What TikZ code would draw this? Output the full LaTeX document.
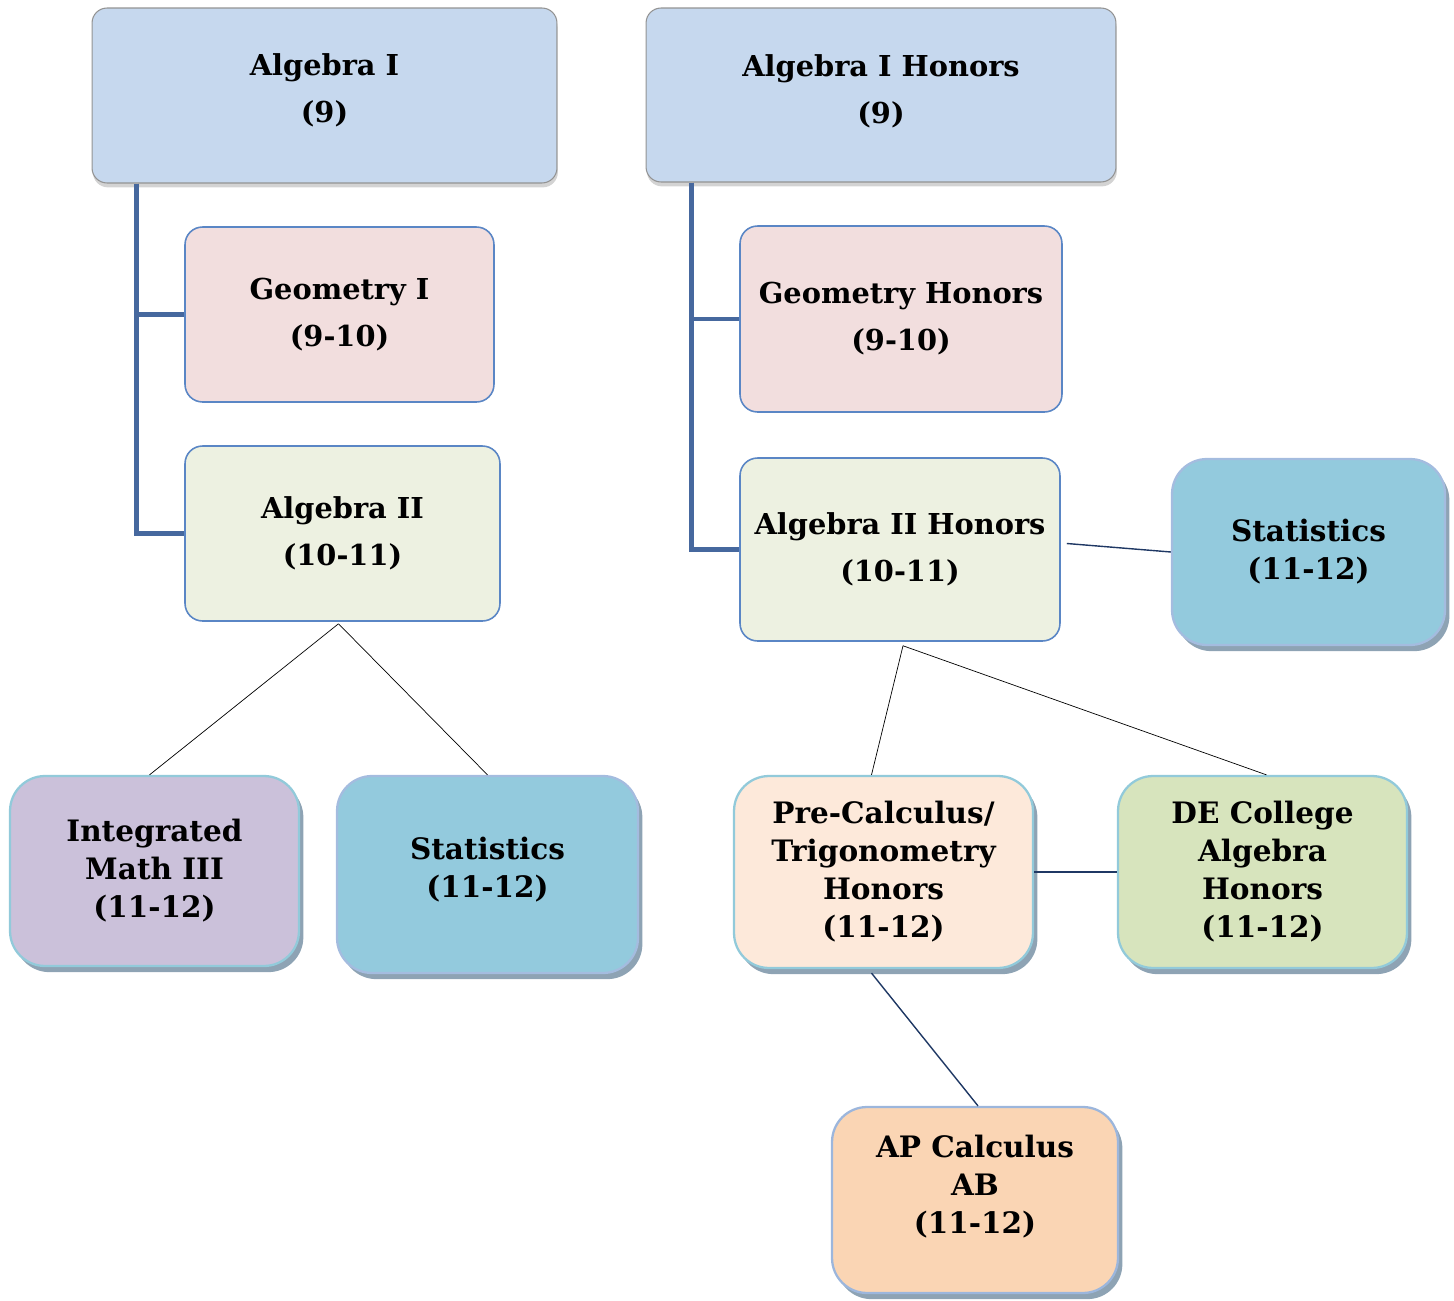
\documentclass[tikz,border=0pt]{standalone}
\usepackage{fontspec}
\setmainfont{DejaVu Serif}
\usepackage{tikz}
\usetikzlibrary{shapes, calc, shadows}

\definecolor{topblue}{HTML}{C6D8EE}
\definecolor{pinkish}{HTML}{F2DEDE}
\definecolor{palegreen}{HTML}{EDF1E1}
\definecolor{statblue}{HTML}{93CADD}
\definecolor{lavender}{HTML}{CBC1DA}
\definecolor{peach}{HTML}{FDE9DA}
\definecolor{olive}{HTML}{D7E4BD}
\definecolor{apricot}{HTML}{FAD5B4}
\definecolor{midline}{HTML}{5A86C5}
\definecolor{lowline}{HTML}{92CADA}
\definecolor{lowshadow}{HTML}{8EA3B4}
\definecolor{elbow}{HTML}{46689E}
\definecolor{navy}{HTML}{1F3864}

\begin{document}
\begin{tikzpicture}[x=0.02cm, y=-0.02cm,
						every node/.style={rectangle, inner sep=0pt, align=center, font=\bfseries\fontsize{16.4}{26.7}\selectfont},
						topbox/.style={draw=gray!85, line width=0.6pt, fill=topblue, rounded corners=0.3cm,
							drop shadow={shadow xshift=0.5pt, shadow yshift=-2.5pt, opacity=0.35}},
						midbox/.style={draw=midline, line width=0.9pt, rounded corners=0.35cm},
						lowbox/.style={draw=lowline, line width=1.3pt, rounded corners=0.7cm,
							font=\bfseries\fontsize{16.8}{21.6}\selectfont,
							drop shadow={shadow xshift=2.5pt, shadow yshift=-3.5pt, fill=lowshadow, opacity=1}},
						every path/.style={line join=miter}]
					\useasboundingbox (0,0) rectangle (1454,1301);

					\node[topbox, minimum width=9.3cm, minimum height=3.5cm] (AlgI) at (324.5,95.5) {Algebra I\\(9)\\[-18pt]};
					\node[topbox, minimum width=9.4cm, minimum height=3.48cm] (AlgIH) at (881,95) {Algebra I Honors\\(9)\\[-20pt]};

					\node[midbox, fill=pinkish, minimum width=6.18cm, minimum height=3.5cm] (GeoI) at (339.5,314.5) {Geometry I\\(9-10)};
					\node[midbox, fill=palegreen, minimum width=6.3cm, minimum height=3.5cm] (AlgII) at (342.5,533.5) {Algebra II\\(10-11)};
					\node[midbox, fill=pinkish, minimum width=6.44cm, minimum height=3.72cm] (GeoH) at (901,319) {Geometry Honors\\(9-10)};
					\node[midbox, fill=palegreen, minimum width=6.4cm, minimum height=3.66cm] (AlgIIH) at (900,549.5) {Algebra II Honors\\(10-11)};

					\node[lowbox, fill=statblue, draw=midline!55, minimum width=5.46cm, minimum height=3.72cm] (StatR) at (1308.5,552) {Statistics\\(11-12)};
					\node[lowbox, fill=lavender, minimum width=5.78cm, minimum height=3.8cm] (IntM) at (154.5,871) {Integrated\\Math III\\(11-12)};
					\node[lowbox, fill=statblue, draw=midline!55, minimum width=6.02cm, minimum height=3.94cm] (StatL) at (487.5,874.5) {Statistics\\(11-12)\\[-13pt]};
					\node[lowbox, fill=peach, minimum width=5.98cm, minimum height=3.84cm] (PreC) at (883.5,872) {Pre-Calculus/\\Trigonometry\\Honors\\(11-12)};
					\node[lowbox, fill=olive, minimum width=5.78cm, minimum height=3.84cm] (DEC) at (1262.5,872) {DE College\\Algebra\\Honors\\(11-12)};
					\node[lowbox, fill=apricot, draw=midline!60, minimum width=5.72cm, minimum height=3.72cm] (APC) at (975,1200) {AP Calculus\\AB\\(11-12)\\[-4pt]};

					% elbows from the top boxes
					\coordinate (L) at ($(AlgI.south west)+(45,0)$);
					\coordinate (R) at ($(AlgIH.south west)+(46,0)$);
					\draw[elbow, line width=2.4pt] (L) |- (GeoI.west);
					\draw[elbow, line width=2.4pt] (L) |- (AlgII.west);
					\draw[elbow, line width=2.4pt] (R) |- (GeoH.west);
					\draw[elbow, line width=2.4pt] (R) |- (AlgIIH.west);

					\path [draw, thin] ($(AlgII.south)+(-4,2)$) edge ($(IntM.north)+(-5,0)$);
					\path [draw, thin] ($(AlgII.south)+(-4,2)$) edge (StatL.north);
					\path [draw, thin] ($(AlgIIH.south)+(3,4)$) edge ($(PreC.north)+(-12,0)$);
					\path [draw, thin] ($(AlgIIH.south)+(3,4)$) edge ($(DEC.north)+(4,0)$);

					\path [draw=navy, thick] ($(AlgIIH.east)+(6,-6)$) edge (StatR.west);
					\path [draw=navy, thick] (PreC.east) edge (DEC.west);
					\path [draw=navy, thick] ($(PreC.south)+(-12,4)$) edge ($(APC.north)+(3,0)$);
				\end{tikzpicture}
\end{document}
